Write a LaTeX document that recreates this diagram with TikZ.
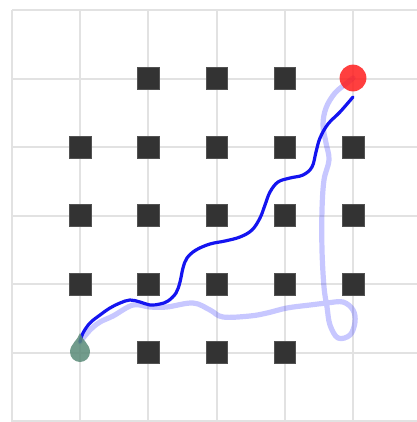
\documentclass[tikz,border=0pt]{standalone}
\usepackage{tikz}
\usetikzlibrary{calc}
\definecolor{gridgray}{HTML}{E2E2E2}
\definecolor{obstgray}{HTML}{333333}
\definecolor{planblue}{HTML}{1414F0}
\definecolor{goalred}{HTML}{FF1E1E}
\definecolor{startteal}{HTML}{5A8B78}

\begin{document}
\begin{tikzpicture}[
  x=0.25mm, y=-0.25mm,
  gridline/.style={draw=gridgray, line width=0.5mm},
  obst/.style={fill=obstgray, draw=obstgray!85, minimum size=5.4mm, inner sep=0pt},
  goalnode/.style={circle, fill=goalred, fill opacity=0.85, minimum size=6.7mm, inner sep=0pt},
  plan/.style={draw=planblue, line width=0.8mm, line cap=round, line join=round},
  ghost/.style={draw=blue, draw opacity=0.22, line width=1.3mm, line cap=round, line join=round}
]
  \useasboundingbox (0,0) rectangle (416,422);
  \fill[white] (0,0) rectangle (416,422);
  % grid
  \foreach \i in {0,...,6} {
    \draw[gridline] ({12+68.2*\i},10) -- ({12+68.2*\i},424);
    \draw[gridline] (12,{10+68.5*\i}) -- (424,{10+68.5*\i});
  }
  % obstacles
  \foreach \c/\r in {2/1,3/1,4/1,1/2,2/2,3/2,4/2,5/2,1/3,2/3,3/3,4/3,5/3,
                     1/4,2/4,3/4,4/4,5/4,2/5,3/5,4/5}
    \node[obst] (o\c\r) at ({12+68.2*\c},{10+68.5*\r}) {};
  \coordinate (start) at (80,342);
  \coordinate (goal) at (353,78);
  % explored trajectory
  \draw[ghost] plot[smooth, tension=0.6] coordinates {(start) (90,330) (100,322) (113,316)
    (133,305) (150,307) (167,307) (193,303) (210,310) (223,317) (250,316) (267,313)
    (287,308) (310,305) (327,303) (343,302) (353,310) (355,322) (350,335) (338,338)
    (330,325) (327,307) (324,287) (322,250) (322,210) (324,180) (329,160) (326,143)
    (323,125) (326,108) (335,93) (347,83) (goal)};
  % planned trajectory
  \draw[plan] plot[smooth, tension=0.6] coordinates {(start) (83,333) (90,323) (100,315)
    (110,308) (120,303) (130,300) (140,302) (150,305) (160,304) (168,301) (176,293)
    (180,282) (183,268) (187,258) (196,250) (210,244) (225,241) (240,237) (252,230)
    (260,218) (265,205) (270,192) (278,182) (290,178) (303,175) (312,167) (316,152)
    (320,138) (328,124) (340,112) ($(goal)+(0,19)$)};
  % start marker
  \fill[startteal, opacity=0.85] ($(start)+(0,-9)$)
    .. controls ($(start)+(-2,-2)$) and ($(start)+(-10,2)$) .. ($(start)+(-10,10)$)
    arc[start angle=180, end angle=0, radius=10]
    .. controls ($(start)+(10,2)$) and ($(start)+(2,-2)$) .. cycle;
  \node[goalnode] (goaldot) at (goal) {};
\end{tikzpicture}
\end{document}
